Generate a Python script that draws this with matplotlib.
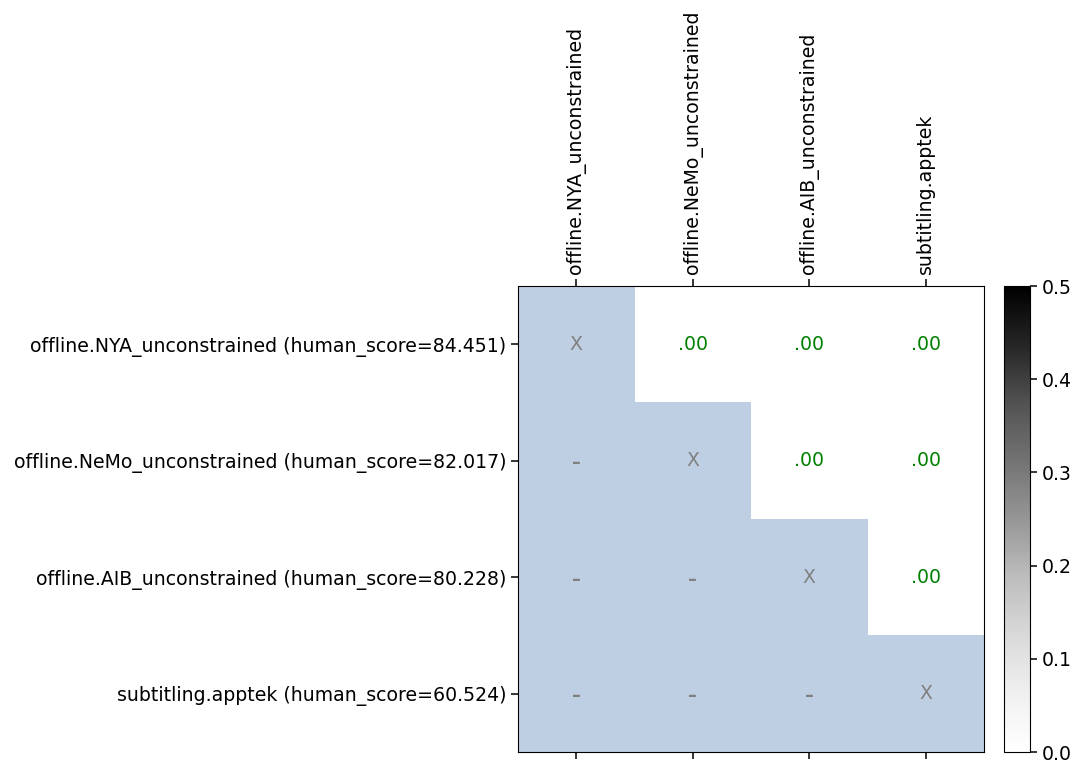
import numpy as np
import matplotlib
matplotlib.use("Agg")
import matplotlib.pyplot as plt
from matplotlib.colors import ListedColormap

systems = [
    "offline.NYA_unconstrained",
    "offline.NeMo_unconstrained",
    "offline.AIB_unconstrained",
    "subtitling.apptek",
]
human_scores = [84.451, 82.017, 80.228, 60.524]

# pairwise p-values (upper triangle: row system vs column system)
p_values = np.array([
    [np.nan, 0.00, 0.00, 0.00],
    [np.nan, np.nan, 0.00, 0.00],
    [np.nan, np.nan, np.nan, 0.00],
    [np.nan, np.nan, np.nan, np.nan],
])

n = len(systems)
row_labels = [f"{s} (human_score={h:.3f})" for s, h in zip(systems, human_scores)]

FS = 13.6
fig = plt.figure(figsize=(10.76, 7.65), dpi=100)
ax = fig.add_axes([518 / 1076, 1 - 752 / 765, 466 / 1076, 466 / 765])
cax = fig.add_axes([1004 / 1076, 1 - 752 / 765, 26 / 1076, 466 / 765])

upper = np.triu(np.ones((n, n), dtype=bool), k=1)
pv = np.ma.masked_where(~upper, np.nan_to_num(p_values))
im = ax.imshow(pv, cmap="Greys", vmin=0, vmax=0.5, aspect="auto")
lower = np.ma.masked_where(upper, np.ones((n, n)))
ax.imshow(lower, cmap=ListedColormap(["#bfcfe3"]), vmin=0, vmax=1, aspect="auto")

for i in range(n):
    for j in range(n):
        if i == j:
            ax.text(j, i, "X", ha="center", va="center", color="gray", fontsize=FS)
        elif j > i:
            txt = f"{p_values[i, j]:.2f}".lstrip("0")
            ax.text(j, i, txt, ha="center", va="center", color="green", fontsize=FS)
        else:
            ax.text(j, i + 0.02, "\u2013", ha="center", va="center", color="gray",
                    fontsize=FS - 1, fontweight="bold")

ax.set_xticks(range(n))
ax.set_yticks(range(n))
ax.set_xticklabels(systems, rotation=90, fontsize=FS)
ax.set_yticklabels(row_labels, fontsize=FS)
ax.tick_params(axis="x", top=True, labeltop=True, bottom=True, labelbottom=False)
ax.tick_params(length=5, width=1.1)

cb = fig.colorbar(im, cax=cax)
cb.set_ticks([0.0, 0.1, 0.2, 0.3, 0.4, 0.5])
cb.ax.tick_params(labelsize=FS, length=5, width=1.1)

fig.savefig("out.png", dpi=100)
